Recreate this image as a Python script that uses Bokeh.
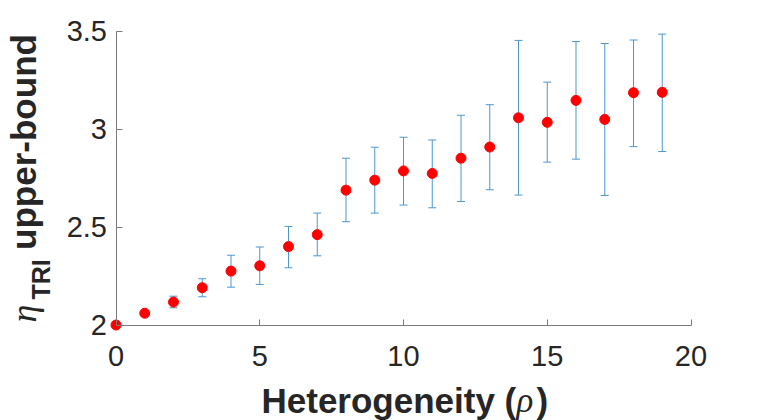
from math import pi
from bokeh.plotting import figure
from bokeh.models import ColumnDataSource, Whisker, TeeHead, Label, FixedTicker, Range1d
from bokeh.embed import file_html
from bokeh.resources import INLINE

# ---- data ----
heterogeneity = list(range(20))
eta_mean = [2.000, 2.060, 2.117, 2.190, 2.275, 2.302, 2.400, 2.461, 2.688, 2.739,
            2.786, 2.773, 2.851, 2.908, 3.057, 3.034, 3.146, 3.049, 3.185, 3.187]
eta_upper = [2.003, 2.066, 2.147, 2.236, 2.356, 2.398, 2.503, 2.571, 2.851, 2.907,
             2.958, 2.944, 3.070, 3.124, 3.452, 3.239, 3.446, 3.436, 3.454, 3.484]
eta_lower = [1.997, 2.054, 2.088, 2.144, 2.193, 2.207, 2.292, 2.353, 2.527, 2.571,
             2.612, 2.598, 2.630, 2.690, 2.663, 2.831, 2.846, 2.661, 2.910, 2.885]
x_limits = (0, 20)
y_limits = (2, 3.5)
x_ticks = [0, 5, 10, 15, 20]
y_ticks = [2, 2.5, 3, 3.5]
y_tick_labels = ["2", "2.5", "3", "3.5"]

src = ColumnDataSource(dict(x=heterogeneity, y=eta_mean, upper=eta_upper, lower=eta_lower))

FONT = "Liberation Sans"
TXT = "#262626"
AXC = "#7a7a7a"
BLUE = "#4d97d1"
W, H = 765, 420

# axes box in canvas pixels (the frame spans the whole canvas so the labels are not clipped)
BOX_L, BOX_R, BOX_T, BOX_B = 115.5, 690.5, 30.5, 324.5
xs = (x_limits[1] - x_limits[0]) / (BOX_R - BOX_L)
ys = (y_limits[1] - y_limits[0]) / (BOX_B - BOX_T)
x_range = Range1d(x_limits[0] - BOX_L * xs, x_limits[1] + (W - BOX_R) * xs)
y_range = Range1d(y_limits[0] - (H - BOX_B) * ys, y_limits[1] + BOX_T * ys)


def px_x(px):
    return x_range.start + px * xs


def px_y(py):
    return y_range.end - py * ys


p = figure(width=W, height=H, output_backend="svg", toolbar_location=None,
           x_range=x_range, y_range=y_range,
           min_border_left=0, min_border_right=0, min_border_top=0, min_border_bottom=0)
p.outline_line_color = None
p.xgrid.grid_line_color = None
p.ygrid.grid_line_color = None
p.background_fill_color = "white"
p.border_fill_color = "white"

for ax in (p.xaxis[0], p.yaxis[0]):
    ax.axis_line_color = AXC
    ax.axis_line_width = 1
    ax.major_tick_line_color = AXC
    ax.major_tick_in = 6
    ax.major_tick_out = 0
    ax.minor_tick_line_color = None
    ax.major_label_text_font = FONT
    ax.major_label_text_font_size = "29px"
    ax.major_label_text_color = TXT

p.xaxis[0].fixed_location = y_limits[0]
p.xaxis[0].bounds = x_limits
p.xaxis[0].ticker = FixedTicker(ticks=x_ticks)
p.xaxis[0].major_label_standoff = 21
p.yaxis[0].fixed_location = x_limits[0]
p.yaxis[0].bounds = y_limits
p.yaxis[0].ticker = FixedTicker(ticks=y_ticks)
p.yaxis[0].major_label_overrides = {t: s for t, s in zip(y_ticks, y_tick_labels)}
p.yaxis[0].major_label_standoff = 9

w = Whisker(source=src, base="x", upper="upper", lower="lower", dimension="height",
            line_color=BLUE, line_width=1,
            upper_head=TeeHead(size=8, line_color=BLUE, line_width=1),
            lower_head=TeeHead(size=8, line_color=BLUE, line_width=1))
w.level = "underlay"
p.add_layout(w)

p.scatter("x", "y", source=src, size=10, fill_color="#ff0000", line_color="#ff0000")


# ---- axis labels built from text pieces ----
def lab(px, py, text, **kw):
    base = dict(x=px_x(px), y=px_y(py), text=text,
                text_font=FONT, text_color=TXT, text_font_style="bold",
                text_font_size="35px", text_baseline="alphabetic", text_align="left")
    base.update(kw)
    p.add_layout(Label(**base))


# x label: Heterogeneity (rho)
lab(261, 400, "Heterogeneity (")
lab(516, 400, "\u03c1", text_font="Liberation Serif", text_font_style="italic")
lab(536, 400, ")")

# y label: eta_TRI upper-bound (rotated)
lab(23, 141.5, "upper-bound", angle=pi / 2, text_align="center")
lab(23, 322, "\u03b7", angle=pi / 2, text_font="Liberation Serif",
    text_font_style="italic", text_font_size="36px")
lab(40, 299, "TRI", angle=pi / 2, text_font_size="25px")

open("out.html", "w").write(file_html(p, INLINE))
